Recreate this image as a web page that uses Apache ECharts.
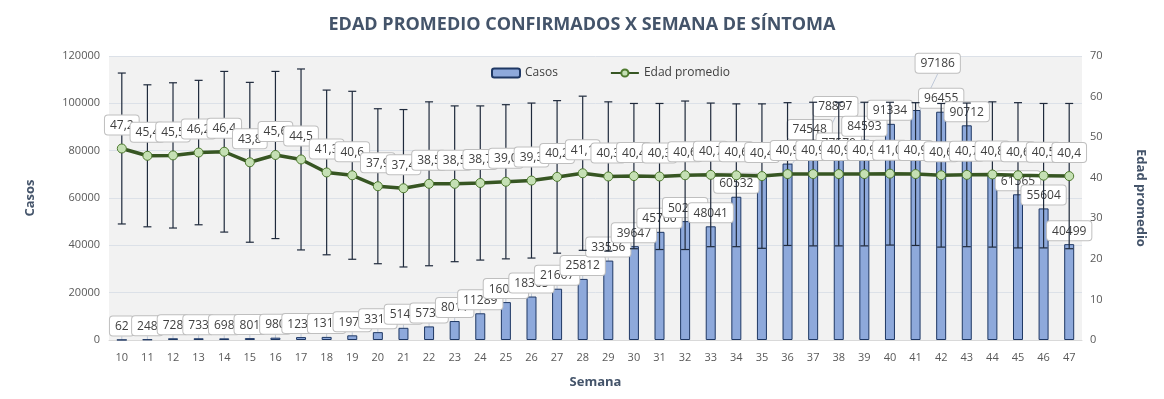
<!DOCTYPE html>
<html><head><meta charset="utf-8">
<script src="https://cdn.jsdelivr.net/npm/echarts@6/dist/echarts.min.js"></script>
<style>html,body{margin:0;padding:0;background:#fff}#c{width:1164px;height:399px}</style>
</head><body><div id="c"></div>
<script>
const weeks = ['10','11','12','13','14','15','16','17','18','19','20','21','22','23','24','25','26','27','28','29','30','31','32','33','34','35','36','37','38','39','40','41','42','43','44','45','46','47'];
const casos = [62,248,728,733,698,801,980,1233,1311,1973,3318,5147,5739,8011,11289,16021,18365,21667,25812,33556,39647,45700,50229,48041,60532,70210,74548,78897,77579,84593,91334,97186,96455,90712,70480,61565,55604,40499];
const edad = [47.2,45.4,45.5,46.2,46.4,43.8,45.6,44.5,41.3,40.6,37.9,37.4,38.5,38.5,38.7,39.0,39.3,40.2,41.1,40.3,40.4,40.3,40.6,40.7,40.6,40.4,40.9,40.9,40.9,40.9,41.0,40.9,40.6,40.7,40.8,40.6,40.5,40.4];
const edadErr = [18.6,17.5,17.9,17.8,19.8,19.7,20.6,22.3,20.3,20.7,19.1,19.4,20.2,19.2,19.0,19.0,19.1,18.8,19.0,18.4,17.9,18.0,18.3,17.7,17.6,17.8,17.6,17.7,17.7,17.7,17.6,17.6,17.7,17.7,17.9,17.9,17.8,17.9];
const hiddenCasosLabels = ['35','44'];

const FONT = "'Open Sans', 'Liberation Sans', sans-serif";
const GRID = {left:109, right:82, top:56, bottom:59};
const H = 399;
const EDAD_MAX = 70;
const CASOS_MAX = 120000;
const chart = echarts.init(document.getElementById('c'), null, {renderer:'canvas'});
const labelBox = {
  show:true, backgroundColor:'#fff', borderColor:'#BFBFBF', borderWidth:1, borderRadius:3,
  padding:[4,5,3,5], color:'#404040', fontSize:12, fontFamily:FONT
};
const LINE_LABEL_DIST = 9;
const BAR_LABEL_DIST = 4;
const plotH = H - GRID.top - GRID.bottom;
const isHidden = j => hiddenCasosLabels.indexOf(weeks[j]) >= 0;
const barTopPx = j => GRID.top + plotH * (1 - casos[j] / CASOS_MAX);
const pointPx = j => GRID.top + plotH * (1 - edad[j] / EDAD_MAX);
const lineLabelTop = j => pointPx(j) - LINE_LABEL_DIST - 22;
const natY = (j, h) => barTopPx(j) - BAR_LABEL_DIST - h;
function isMoved(j){
  if (isHidden(j)) return false;
  const bt = barTopPx(j);
  return bt < pointPx(j) + 4 && bt - BAR_LABEL_DIST > lineLabelTop(j);
}
function barLabelLayout(p){
  const i = p.dataIndex, h = p.labelRect.height, n = casos.length;
  if (isMoved(i)) {
    const stagger = (i % 2) ? h + 2 : 0;
    const y = lineLabelTop(i) - h - 2 - stagger;
    const k = i + 1;
    if (k < n && !isHidden(k) && !isMoved(k)) {
      const ny = natY(k, h);
      if (y < ny + h && y + h > ny) return {};
    }
    return {y: y};
  }
  const left = i > 0 ? casos[i-1] : -Infinity;
  const right = i < n - 1 ? casos[i+1] : -Infinity;
  if (casos[i] >= left && casos[i] >= right) {
    const own = natY(i, h);
    const ys = [i-1, i+1].filter(j => j >= 0 && j < n && !isHidden(j) && !isMoved(j)).map(j => natY(j, h));
    if (ys.some(y => Math.abs(y - own) < h)) {
      const ny = Math.min.apply(null, ys) - h - 12;
      if (ny + h < lineLabelTop(i)) return {y: ny};
    }
  }
  return {};
}
chart.setOption({
  animation:false,
  title:{text:'EDAD PROMEDIO CONFIRMADOS X SEMANA DE SÍNTOMA', left:'center', top:11,
    textStyle:{fontSize:18, fontWeight:'bold', color:'#44546A', fontFamily:FONT}},
  legend:{data:['Casos','Edad promedio'], top:62, left:486, itemGap:52, itemWidth:28, itemHeight:9,
    textStyle:{fontSize:12, color:'#404040', fontFamily:FONT}},
  grid:Object.assign({show:true, backgroundColor:'#F2F2F2', borderWidth:0}, GRID),
  xAxis:{type:'category', data:weeks, name:'Semana', nameLocation:'middle', nameGap:36,
    nameTextStyle:{fontSize:13, fontWeight:'bold', color:'#44546A', fontFamily:FONT},
    axisLine:{lineStyle:{color:'#D9D9D9'}}, axisTick:{show:false},
    axisLabel:{color:'#595959', fontSize:11, fontFamily:FONT, margin:12}},
  yAxis:[
    {type:'value', min:0, max:CASOS_MAX, interval:20000, name:'Casos', nameLocation:'middle', nameGap:72, nameRotate:90,
     nameTextStyle:{fontSize:13, fontWeight:'bold', color:'#44546A', fontFamily:FONT},
     axisLabel:{color:'#595959', fontSize:11, fontFamily:FONT, margin:9, formatter:v=>String(v)},
     splitLine:{lineStyle:{color:'#DCE1E8'}}, axisLine:{show:false}, axisTick:{show:false}},
    {type:'value', min:0, max:EDAD_MAX, interval:10, name:'Edad promedio', nameLocation:'middle', nameGap:52, nameRotate:-90,
     nameTextStyle:{fontSize:13, fontWeight:'bold', color:'#44546A', fontFamily:FONT},
     axisLabel:{color:'#595959', fontSize:11, fontFamily:FONT, margin:8},
     splitLine:{show:false}, axisLine:{show:false}, axisTick:{show:false}}
  ],
  series:[
    {name:'Casos', type:'bar', yAxisIndex:0, barWidth:10, z:2,
     data:casos.map((v,i)=>({value:v, label:{show: !isHidden(i)}})),
     itemStyle:{color:'#8EA9DB', borderColor:'#1F3864', borderWidth:1},
     label:Object.assign({position:'top', distance:BAR_LABEL_DIST}, labelBox),
     labelLayout:barLabelLayout, labelLine:{show:true, lineStyle:{color:'#BFC9D9', width:1}}},
    {name:'err', type:'custom', yAxisIndex:1, z:4, silent:true,
     data:edad.map((v,i)=>[i, v, edadErr[i]]),
     renderItem:function(params, api){
       const x = api.value(0), v = api.value(1), e = api.value(2);
       const hi = api.coord([x, v+e]), lo = api.coord([x, v-e]);
       const cw = 4;
       const st = {stroke:'#1F2A3C', lineWidth:1.2};
       return {type:'group', children:[
         {type:'line', shape:{x1:hi[0], y1:hi[1], x2:lo[0], y2:lo[1]}, style:st},
         {type:'line', shape:{x1:hi[0]-cw, y1:hi[1], x2:hi[0]+cw, y2:hi[1]}, style:st},
         {type:'line', shape:{x1:lo[0]-cw, y1:lo[1], x2:lo[0]+cw, y2:lo[1]}, style:st}
       ]};
     }},
    {name:'Edad promedio', type:'line', yAxisIndex:1, z:5, data:edad,
     symbol:'circle', symbolSize:9,
     lineStyle:{color:'#375623', width:3.5},
     itemStyle:{color:'#C5E0B4', borderColor:'#4E7A2E', borderWidth:1},
     label:Object.assign({position:'top', distance:LINE_LABEL_DIST, formatter:p=>p.value.toFixed(1).replace('.',',')}, labelBox)}
  ]
});
</script></body></html>
